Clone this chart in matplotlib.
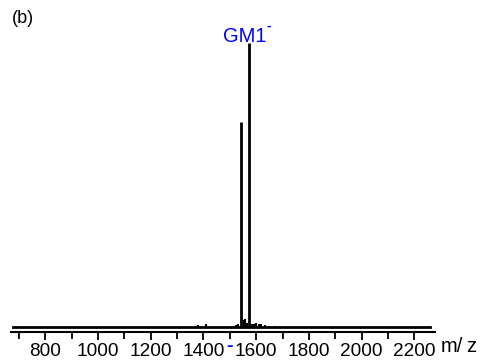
import numpy as np
import matplotlib
matplotlib.use("Agg")
import matplotlib.pyplot as plt
from matplotlib.ticker import MultipleLocator

plt.rcParams['font.family'] = ['Liberation Sans', 'DejaVu Sans']

# spectrum sticks (m/z, relative intensity)
main_mz = [1544, 1572]
main_int = [72, 100]
minor_mz = [1380, 1410, 1525, 1532, 1552, 1558, 1564, 1585, 1592, 1600,
            1610, 1620, 1633, 1650, 1670]
minor_int = [0.8, 1.0, 0.7, 1.0, 2.4, 2.8, 1.5, 1.2, 1.0, 1.4,
             1.0, 0.9, 0.7, 0.5, 0.4]
baseline_mz = [679, 2258]
xticks = [800, 1000, 1200, 1400, 1600, 1800, 2000, 2200]

fig = plt.figure(figsize=(4.87, 3.62), dpi=100)
ax = fig.add_axes([0.0226, 0.0829, 0.8706, 0.877])

ax.plot(baseline_mz, [0, 0], color='black', lw=2)
ax.vlines(minor_mz, 0, minor_int, color='black', lw=1.5)
ax.vlines(main_mz, 0, main_int, color='black', lw=2)

ax.set_xlim(670, 2278)
ax.set_ylim(-1.76, 110)

for s in ['top', 'right', 'left']:
    ax.spines[s].set_visible(False)
ax.spines['bottom'].set_linewidth(1.5)
ax.set_yticks([])
ax.set_xticks(xticks)
ax.xaxis.set_minor_locator(MultipleLocator(100))
ax.tick_params(axis='x', which='major', direction='out', length=6, width=1.3,
               labelsize=13.7, pad=2)
ax.tick_params(axis='x', which='minor', direction='out', length=5, width=1.3)

# axis unit
fig.text(441 / 487, 1 - 346 / 362, 'm/', fontsize=14.5, ha='left', va='center')
fig.text(466 / 487, 1 - 346 / 362, 'z', fontsize=14.5, ha='left', va='center')
ax.text(1500, -7.0, '-', color='blue', fontsize=14, ha='center', va='center',
        fontweight='bold')

ax.text(1557, 100.5, 'GM1', color='blue', fontsize=14.5, ha='center',
        va='baseline')
ax.text(1648, 106, '-', color='blue', fontsize=10, ha='center', va='center',
        fontweight='bold')

fig.text(0.025, 0.95, '(b)', fontsize=13, ha='left', va='center')

fig.savefig('out.png', dpi=100)
